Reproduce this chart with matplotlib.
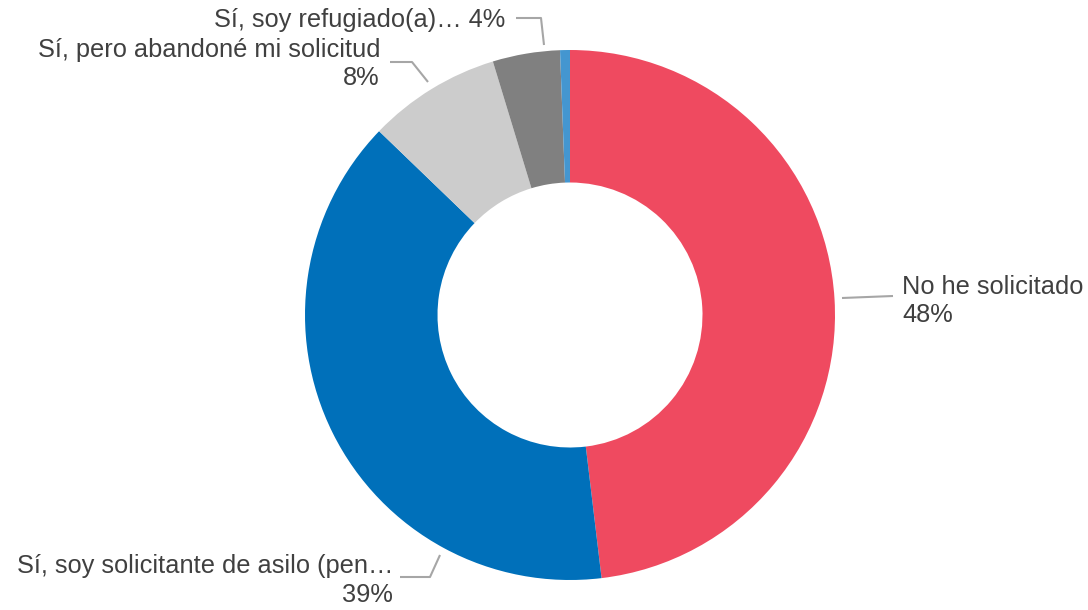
import matplotlib.pyplot as plt

labels = ['No he solicitado', 'Sí, soy solicitante de asilo (pen…',
          'Sí, pero abandoné mi solicitud', 'Sí, soy refugiado(a)…', 'Otro']
values = [48.1, 39.1, 8.1, 4.1, 0.6]
pct_text = ['48%', '39%', '8%', '4%', '']
colors = ['#EF4A60', '#0070BA', '#CCCCCC', '#808080', '#4496D0']

plt.rcParams['font.family'] = ['Liberation Sans', 'DejaVu Sans']

W, H = 1088, 610
fig = plt.figure(figsize=(W / 100, H / 100), dpi=100)

# donut: centre (570, 315) px, radius 265 px
cx, cy, r = 570, 315, 265
ax = fig.add_axes([(cx - r) / W, (H - cy - r) / H, 2 * r / W, 2 * r / H])
ax.pie(values, colors=colors, startangle=90, counterclock=False, radius=1,
       wedgeprops=dict(width=0.5, linewidth=0))
ax.set_xlim(-1, 1)
ax.set_ylim(-1, 1)
ax.axis('off')

# overlay in pixel coords for labels and leader lines
ov = fig.add_axes([0, 0, 1, 1], facecolor='none')
ov.set_xlim(0, W)
ov.set_ylim(H, 0)
ov.axis('off')

txt_color = '#404040'
line_color = '#A6A6A6'
fs = 18.25

# leader lines (label layout)
leaders = [
    [(842, 298), (893, 296)],
    [(440, 555), (430, 577), (400, 577)],
    [(428, 82), (412, 62), (390, 62)],
    [(544, 45), (541, 18), (516, 18)],
]
for pts in leaders:
    xs, ys = zip(*pts)
    ov.plot(xs, ys, color=line_color, lw=1.5, solid_capstyle='butt')

# label text
ov.text(902, 294, labels[0], ha='left', va='baseline', fontsize=fs, color=txt_color)
ov.text(902, 322, pct_text[0], ha='left', va='baseline', fontsize=fs, color=txt_color)
ov.text(393, 573, labels[1], ha='right', va='baseline', fontsize=fs, color=txt_color)
ov.text(393, 602, pct_text[1], ha='right', va='baseline', fontsize=fs, color=txt_color)
ov.text(380, 57, labels[2], ha='right', va='baseline', fontsize=fs, color=txt_color)
ov.text(380, 85, pct_text[2], ha='right', va='baseline', fontsize=fs, color=txt_color)
ov.text(505, 27, labels[3] + ' ' + pct_text[3], ha='right', va='baseline',
        fontsize=fs, color=txt_color)

fig.savefig('out.png', dpi=100)
